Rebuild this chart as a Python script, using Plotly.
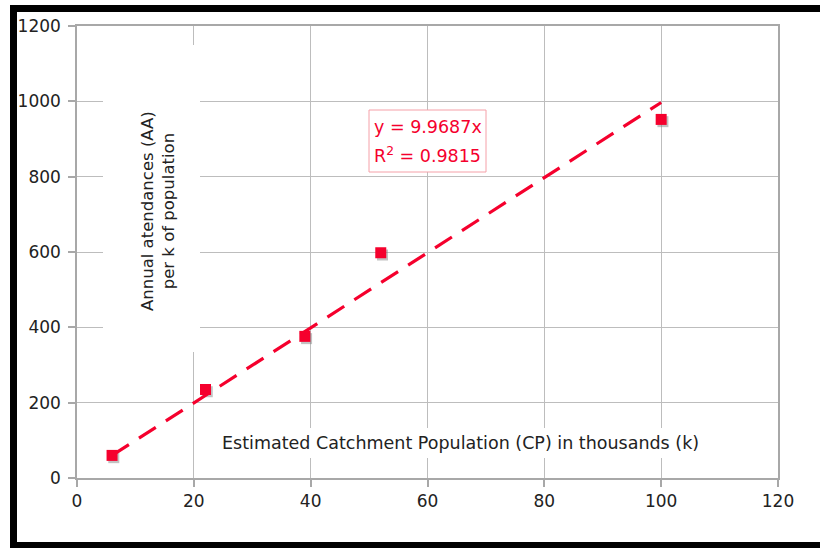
import plotly.graph_objects as go

# Catchment population (thousands) and annual attendances per k of population
population_k = [6, 22, 39, 52, 100]
attendances = [60, 235, 376, 598, 952]

slope = 9.9687
r_squared = 0.9815
trend_x = [6, 100]
trend_y = [slope * x for x in trend_x]

W, H = 820, 548
L, R, T, B = 77, 42, 26, 70
pw, ph = W - L - R, H - T - B


def px_x(p):
    return (p - L) / pw


def px_y(p):
    return (H - B - p) / ph


FONT = "DejaVu Sans"
RED = "#f5002d"
TXT = "#222"

fig = go.Figure()

# soft grey drop shadow under the markers
fig.add_trace(go.Scatter(
    x=[x + 0.3 for x in population_k], y=[y - 6 for y in attendances],
    mode="markers", marker=dict(symbol="square", size=11, color="rgba(120,120,120,0.45)"),
    hoverinfo="skip", showlegend=False))

fig.add_trace(go.Scatter(
    x=trend_x, y=trend_y, mode="lines",
    line=dict(color=RED, width=3.2, dash="20px,12px"), showlegend=False))

fig.add_trace(go.Scatter(
    x=population_k, y=attendances, mode="markers",
    marker=dict(symbol="square", size=11, color=RED), showlegend=False))

axis_common = dict(
    showline=True, mirror=True, linecolor="#a8a8a8", linewidth=1.5,
    showgrid=True, gridcolor="#bdbdbd", gridwidth=1,
    ticks="outside", ticklen=7, tickcolor="#a8a8a8", tickwidth=1.5,
    zeroline=False, tickfont=dict(family=FONT, size=17, color=TXT),
)

fig.update_xaxes(range=[0, 120], dtick=20, **axis_common)
fig.update_yaxes(range=[0, 1200], dtick=200, ticklabelstandoff=4, **axis_common)

shapes = []
# white panels behind the axis titles and the trendline label
shapes.append(dict(type="rect", xref="paper", yref="paper", layer="above",
                   x0=px_x(103), x1=px_x(200), y0=px_y(352), y1=px_y(45),
                   fillcolor="white", line=dict(width=0)))
shapes.append(dict(type="rect", xref="paper", yref="paper", layer="above",
                   x0=px_x(213), x1=px_x(708), y0=px_y(458), y1=px_y(428),
                   fillcolor="white", line=dict(width=0)))
shapes.append(dict(type="rect", xref="paper", yref="paper", layer="above",
                   x0=px_x(369), x1=px_x(486), y0=px_y(172), y1=px_y(110),
                   fillcolor="white", line=dict(width=1, color="#f5a0a8")))
# black frame
shapes.append(dict(type="rect", xref="paper", yref="paper", layer="above",
                   x0=px_x(10), x1=px_x(820), y0=px_y(12), y1=px_y(5),
                   fillcolor="black", line=dict(width=0)))
shapes.append(dict(type="rect", xref="paper", yref="paper", layer="above",
                   x0=px_x(10), x1=px_x(17), y0=px_y(548), y1=px_y(5),
                   fillcolor="black", line=dict(width=0)))
shapes.append(dict(type="rect", xref="paper", yref="paper", layer="above",
                   x0=px_x(10), x1=px_x(820), y0=px_y(548), y1=px_y(542),
                   fillcolor="black", line=dict(width=0)))

annotations = [
    dict(xref="paper", yref="paper", x=px_x(158), y=px_y(211),
         text="Annual atendances (AA)<br>per k of population", textangle=-90,
         showarrow=False, font=dict(family=FONT, size=16.5, color=TXT),
         xanchor="center", yanchor="middle"),
    dict(xref="paper", yref="paper", x=px_x(460), y=px_y(443),
         text="Estimated Catchment Population (CP) in thousands (k)",
         showarrow=False, font=dict(family=FONT, size=17.5, color=TXT),
         xanchor="center", yanchor="middle"),
    dict(xref="paper", yref="paper", x=px_x(372), y=px_y(127),
         text=f"y = {slope}x",
         showarrow=False, font=dict(family=FONT, size=17.5, color=RED),
         xanchor="left", yanchor="middle", align="left"),
    dict(xref="paper", yref="paper", x=px_x(372), y=px_y(155),
         text=f"R<sup>2</sup> = {r_squared}",
         showarrow=False, font=dict(family=FONT, size=17.5, color=RED),
         xanchor="left", yanchor="middle", align="left"),
]

fig.update_layout(
    width=W, height=H, margin=dict(l=L, r=R, t=T, b=B),
    paper_bgcolor="white", plot_bgcolor="white",
    shapes=shapes, annotations=annotations, showlegend=False,
)

fig.write_html("out.html")
